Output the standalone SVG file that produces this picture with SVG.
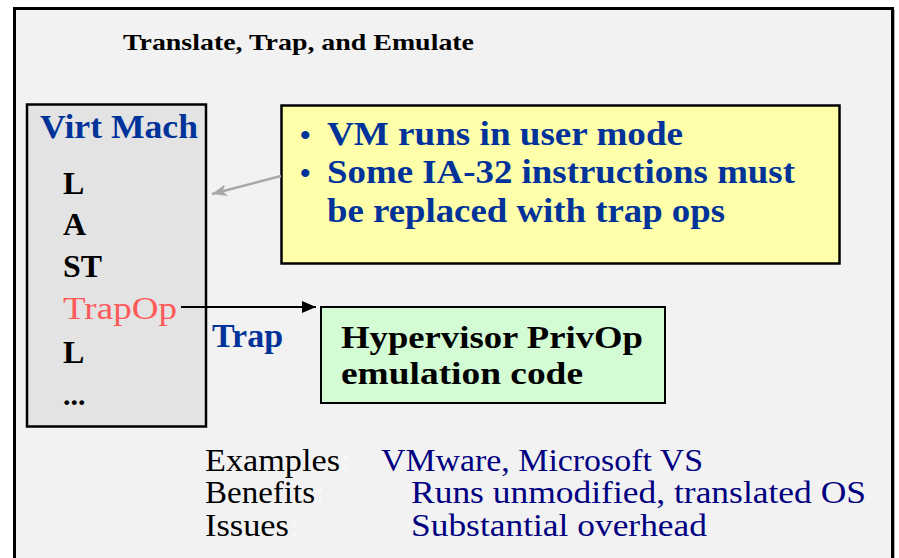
<svg xmlns="http://www.w3.org/2000/svg" width="899" height="558" viewBox="0 0 899 558">
<style>
.serif{font-family:"Liberation Serif","Times New Roman",serif}
.b{font-weight:bold}
.blue{fill:#003399}
.navy{fill:#000080}
.blk{fill:#000000}
.faint{fill:#f9f9f9}
</style>
<defs>
<marker id="ahBlack" markerWidth="14" markerHeight="12" refX="14" refY="6" orient="auto" markerUnits="userSpaceOnUse">
<path d="M0,0 L14,6 L0,12 Z" fill="#000"/>
</marker>
<marker id="ahGray" markerWidth="16" markerHeight="12" refX="15" refY="6" orient="auto" markerUnits="userSpaceOnUse">
<path d="M0,0 L15,6 L0,12 L4,6 Z" fill="#a8a8a8"/>
</marker>
</defs>
<rect x="0" y="0" width="899" height="558" fill="#ffffff"/>
<g id="frame">
<rect x="17" y="10" width="878" height="560" fill="#b0b0b0"/>
<rect x="14.5" y="8.5" width="878" height="560" fill="#f2f2f2" stroke="#000" stroke-width="3"/>
<text class="serif b blk" x="123" y="50" font-size="24" textLength="351" lengthAdjust="spacingAndGlyphs">Translate, Trap, and Emulate</text>
</g>
<g id="virt-mach">
<rect x="27" y="104.5" width="179" height="322" fill="#e3e3e3" stroke="#000" stroke-width="2.5"/>
<text class="serif b blue" x="40" y="138" font-size="34" textLength="158" lengthAdjust="spacingAndGlyphs">Virt Mach</text>
<text class="serif b blk" x="63" y="194" font-size="32">L</text>
<text class="serif b blk" x="63" y="235" font-size="32">A</text>
<text class="serif b blk" x="63" y="277" font-size="32" textLength="39" lengthAdjust="spacingAndGlyphs">ST</text>
<text class="serif" x="63" y="319" font-size="32" fill="#ff5a5a" textLength="114" lengthAdjust="spacingAndGlyphs">TrapOp</text>
<text class="serif b blk" x="63" y="363" font-size="32">L</text>
<text class="serif b blk" x="63" y="405" font-size="30">...</text>
</g>
<g id="note">
<rect x="281.5" y="105.5" width="558" height="158" fill="#ffffaa" stroke="#000" stroke-width="2.5"/>
<text class="serif b blue" x="300" y="145" font-size="30">•</text>
<text class="serif b blue" x="327" y="145" font-size="33" textLength="356" lengthAdjust="spacingAndGlyphs">VM runs in user mode</text>
<text class="serif b blue" x="300" y="183" font-size="30">•</text>
<text class="serif b blue" x="327" y="183" font-size="33" textLength="468" lengthAdjust="spacingAndGlyphs">Some IA-32 instructions must</text>
<text class="serif b blue" x="327" y="222" font-size="33" textLength="398" lengthAdjust="spacingAndGlyphs">be replaced with trap ops</text>
</g>
<g id="hypervisor">
<rect x="321" y="307" width="344" height="96" fill="#d4fcd4" stroke="#000" stroke-width="2"/>
<text class="serif b blk" x="341" y="348" font-size="32" textLength="302" lengthAdjust="spacingAndGlyphs">Hypervisor PrivOp</text>
<text class="serif b blk" x="341" y="384" font-size="32" textLength="242" lengthAdjust="spacingAndGlyphs">emulation code</text>
</g>
<g id="connectors">
<line x1="181" y1="307" x2="316" y2="307" stroke="#000" stroke-width="2" marker-end="url(#ahBlack)"/>
<line x1="281" y1="176" x2="212" y2="194" stroke="#a8a8a8" stroke-width="2.5" marker-end="url(#ahGray)"/>
<text class="serif b blue" x="212" y="347" font-size="34" textLength="71" lengthAdjust="spacingAndGlyphs">Trap</text>
</g>
<g id="summary">
<text class="serif blk" x="205" y="471" font-size="31" textLength="135" lengthAdjust="spacingAndGlyphs">Examples</text>
<text class="serif faint" x="341" y="471" font-size="31">:</text>
<text class="serif navy" x="381" y="471" font-size="31" textLength="322" lengthAdjust="spacingAndGlyphs">VMware, Microsoft VS</text>
<text class="serif blk" x="205" y="503" font-size="31" textLength="110" lengthAdjust="spacingAndGlyphs">Benefits</text>
<text class="serif faint" x="316" y="503" font-size="31">:</text>
<text class="serif navy" x="411" y="503" font-size="31" textLength="455" lengthAdjust="spacingAndGlyphs">Runs unmodified, translated OS</text>
<text class="serif blk" x="205" y="536" font-size="31" textLength="84" lengthAdjust="spacingAndGlyphs">Issues</text>
<text class="serif faint" x="290" y="536" font-size="31">:</text>
<text class="serif navy" x="411" y="536" font-size="31" textLength="296" lengthAdjust="spacingAndGlyphs">Substantial overhead</text>
</g>
</svg>
